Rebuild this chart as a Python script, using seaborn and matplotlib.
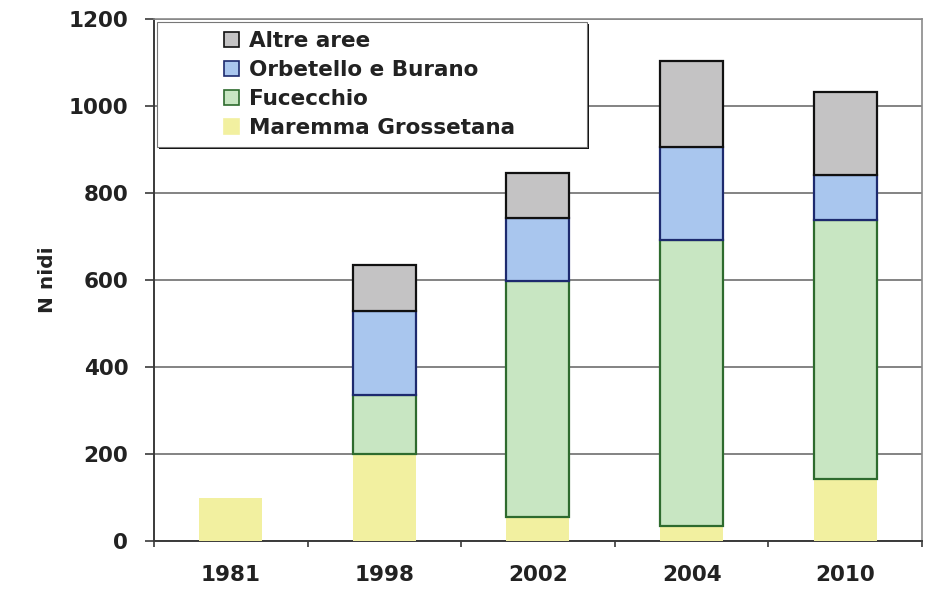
import numpy as np
import pandas as pd
import matplotlib
matplotlib.use("Agg")
import matplotlib.pyplot as plt
from matplotlib.patches import Patch, Rectangle
from matplotlib.ticker import MultipleLocator, FixedLocator
import seaborn as sns

# Nest counts per area and survey year
years = ["1981", "1998", "2002", "2004", "2010"]
maremma = [100, 200, 55, 34, 143]
fucecchio = [0, 136, 543, 658, 595]
orbetello = [0, 193, 145, 214, 103]
altre = [0, 105, 103, 197, 191]

series_names = ["Maremma Grossetana", "Fucecchio", "Orbetello e Burano", "Altre aree"]
series_values = [maremma, fucecchio, orbetello, altre]
face_colors = ["#f2f0a0", "#c8e6c2", "#a9c6ee", "#c4c3c4"]
edge_colors = ["none", "#2e6b2e", "#1d2a6e", "#111111"]

sns.set_theme(style="white")
plt.rcParams["font.family"] = ["DejaVu Sans"]

fig = plt.figure(figsize=(9.31, 5.94), dpi=100)
ax = fig.add_axes([0.1654, 0.0892, 0.8249, 0.8788])

bottom = np.zeros(len(years))
for name, vals, fc, ec in zip(series_names, series_values, face_colors, edge_colors):
    vals = np.asarray(vals, dtype=float)
    mask = vals > 0
    sub = pd.DataFrame({"anno": np.array(years)[mask], "nidi": vals[mask]})
    sns.barplot(
        data=sub, x="anno", y="nidi", order=years, ax=ax,
        color=fc, saturation=1, width=0.41, errorbar=None,
        bottom=bottom[mask], edgecolor=ec, linewidth=1.6 if ec != "none" else 0,
        zorder=3,
    )
    bottom += vals

ax.set_xlim(-0.5, len(years) - 0.5)
ax.set_ylim(0, 1200)
ax.yaxis.set_major_locator(MultipleLocator(200))
ax.grid(axis="y", color="#7a7a7a", linewidth=1.3, zorder=0)
ax.set_axisbelow(True)

for side in ["left", "bottom"]:
    ax.spines[side].set_color("#3a3a3a")
    ax.spines[side].set_linewidth(1.4)
ax.spines["right"].set_color("#8a8a8a")
ax.spines["right"].set_linewidth(1.2)
ax.spines["top"].set_color("#8a8a8a")
ax.spines["top"].set_linewidth(1.2)

ax.set_xlabel("")
ax.set_ylabel("N nidi", fontsize=14.5, fontweight="bold", color="#222222", labelpad=8)

ax.tick_params(axis="y", which="major", direction="out", length=6.5, width=1.2,
               color="#3a3a3a", pad=12, labelsize=15.5, labelcolor="#222222", left=True)
ax.tick_params(axis="x", which="major", length=0, pad=17, labelsize=15.5, labelcolor="#222222")
ax.xaxis.set_minor_locator(FixedLocator(np.arange(-0.5, len(years), 1.0)))
ax.tick_params(axis="x", which="minor", direction="out", length=4.5, width=1.2,
               color="#3a3a3a", bottom=True)
for lab in ax.get_xticklabels() + ax.get_yticklabels():
    lab.set_fontweight("bold")

# Legend box with a dark drop shadow on the right and bottom
box_x0, box_x1 = 0.004, 0.564
box_y0, box_y1 = 0.755, 0.994
dx = 2.2 / 768
dy = 2.2 / 522
ax.add_patch(Rectangle((box_x0 + dx, box_y0 - dy), box_x1 - box_x0, box_y1 - box_y0,
                       transform=ax.transAxes, facecolor="#111111", edgecolor="none",
                       zorder=6, clip_on=False))
ax.add_patch(Rectangle((box_x0, box_y0), box_x1 - box_x0, box_y1 - box_y0,
                       transform=ax.transAxes, facecolor="white", edgecolor="#777777",
                       linewidth=0.8, zorder=7, clip_on=False))

handles = [Patch(facecolor=fc, edgecolor=(ec if ec != "none" else fc), linewidth=1.2)
           for fc, ec in zip(face_colors, edge_colors)]
leg = ax.legend(handles[::-1], series_names[::-1], loc="upper left",
                bbox_to_anchor=(0.091, 0.977), frameon=False, borderpad=0,
                handlelength=0.72, handleheight=0.72, handletextpad=0.45,
                labelspacing=0.42, borderaxespad=0,
                prop={"size": 15.5, "weight": "bold"})
leg.set_zorder(8)
for t in leg.get_texts():
    t.set_color("#222222")

fig.savefig("out.png", dpi=100, facecolor="white")
